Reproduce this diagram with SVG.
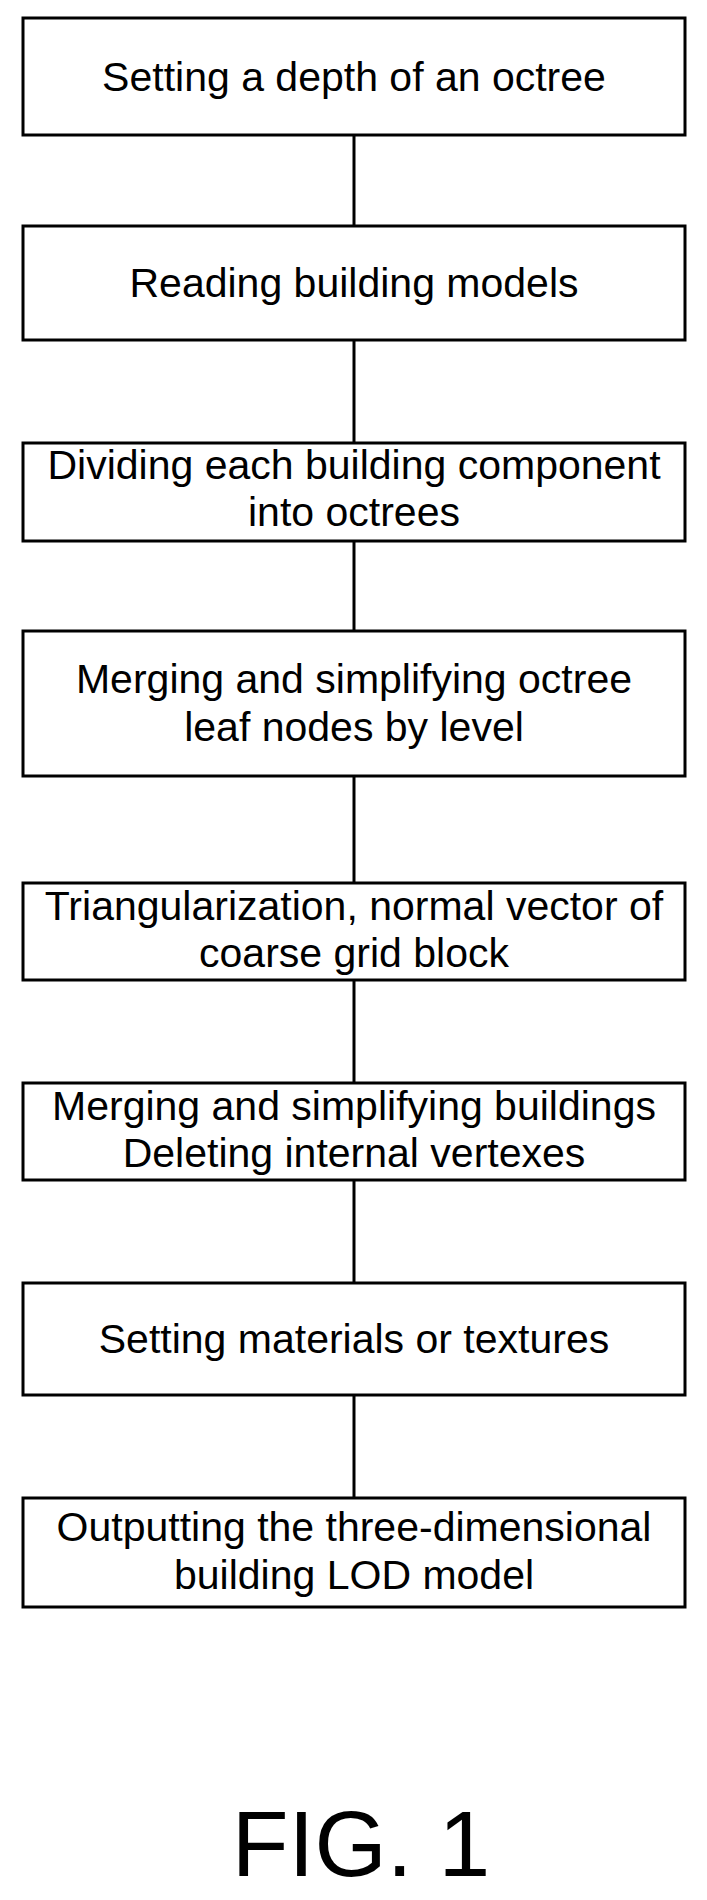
<svg xmlns="http://www.w3.org/2000/svg" width="707" height="1900" viewBox="0 0 707 1900">
<style>
rect{fill:#fff;stroke:#000;stroke-width:3}
line{stroke:#000;stroke-width:3}
text{font-family:"Liberation Sans",Arial,sans-serif;font-size:41px;text-anchor:middle;fill:#000}
</style>
<rect width="707" height="1900" fill="#fff" style="stroke:none"/>
<g id="connectors">
<line x1="354" y1="135" x2="354" y2="226"/>
<line x1="354" y1="340" x2="354" y2="443"/>
<line x1="354" y1="541" x2="354" y2="631"/>
<line x1="354" y1="776" x2="354" y2="883"/>
<line x1="354" y1="980" x2="354" y2="1083"/>
<line x1="354" y1="1180" x2="354" y2="1283"/>
<line x1="354" y1="1395" x2="354" y2="1498"/>
</g>
<g id="n1"><rect x="23" y="18" width="662" height="117"/><text x="354" y="91">Setting a depth of an octree</text></g>
<g id="n2"><rect x="23" y="226" width="662" height="114"/><text x="354" y="297">Reading building models</text></g>
<g id="n3"><rect x="23" y="443" width="662" height="98"/><text x="354" y="479">Dividing each building component</text><text x="354" y="526">into octrees</text></g>
<g id="n4"><rect x="23" y="631" width="662" height="145"/><text x="354" y="693">Merging and simplifying octree</text><text x="354" y="741">leaf nodes by level</text></g>
<g id="n5"><rect x="23" y="883" width="662" height="97"/><text x="354" y="920">Triangularization, normal vector of</text><text x="354" y="967">coarse grid block</text></g>
<g id="n6"><rect x="23" y="1083" width="662" height="97"/><text x="354" y="1120">Merging and simplifying buildings</text><text x="354" y="1167">Deleting internal vertexes</text></g>
<g id="n7"><rect x="23" y="1283" width="662" height="112"/><text x="354" y="1353">Setting materials or textures</text></g>
<g id="n8"><rect x="23" y="1498" width="662" height="109"/><text x="354" y="1541">Outputting the three-dimensional</text><text x="354" y="1589">building LOD model</text></g>
<text x="361" y="1876" style="font-size:93px">FIG. 1</text>
</svg>
